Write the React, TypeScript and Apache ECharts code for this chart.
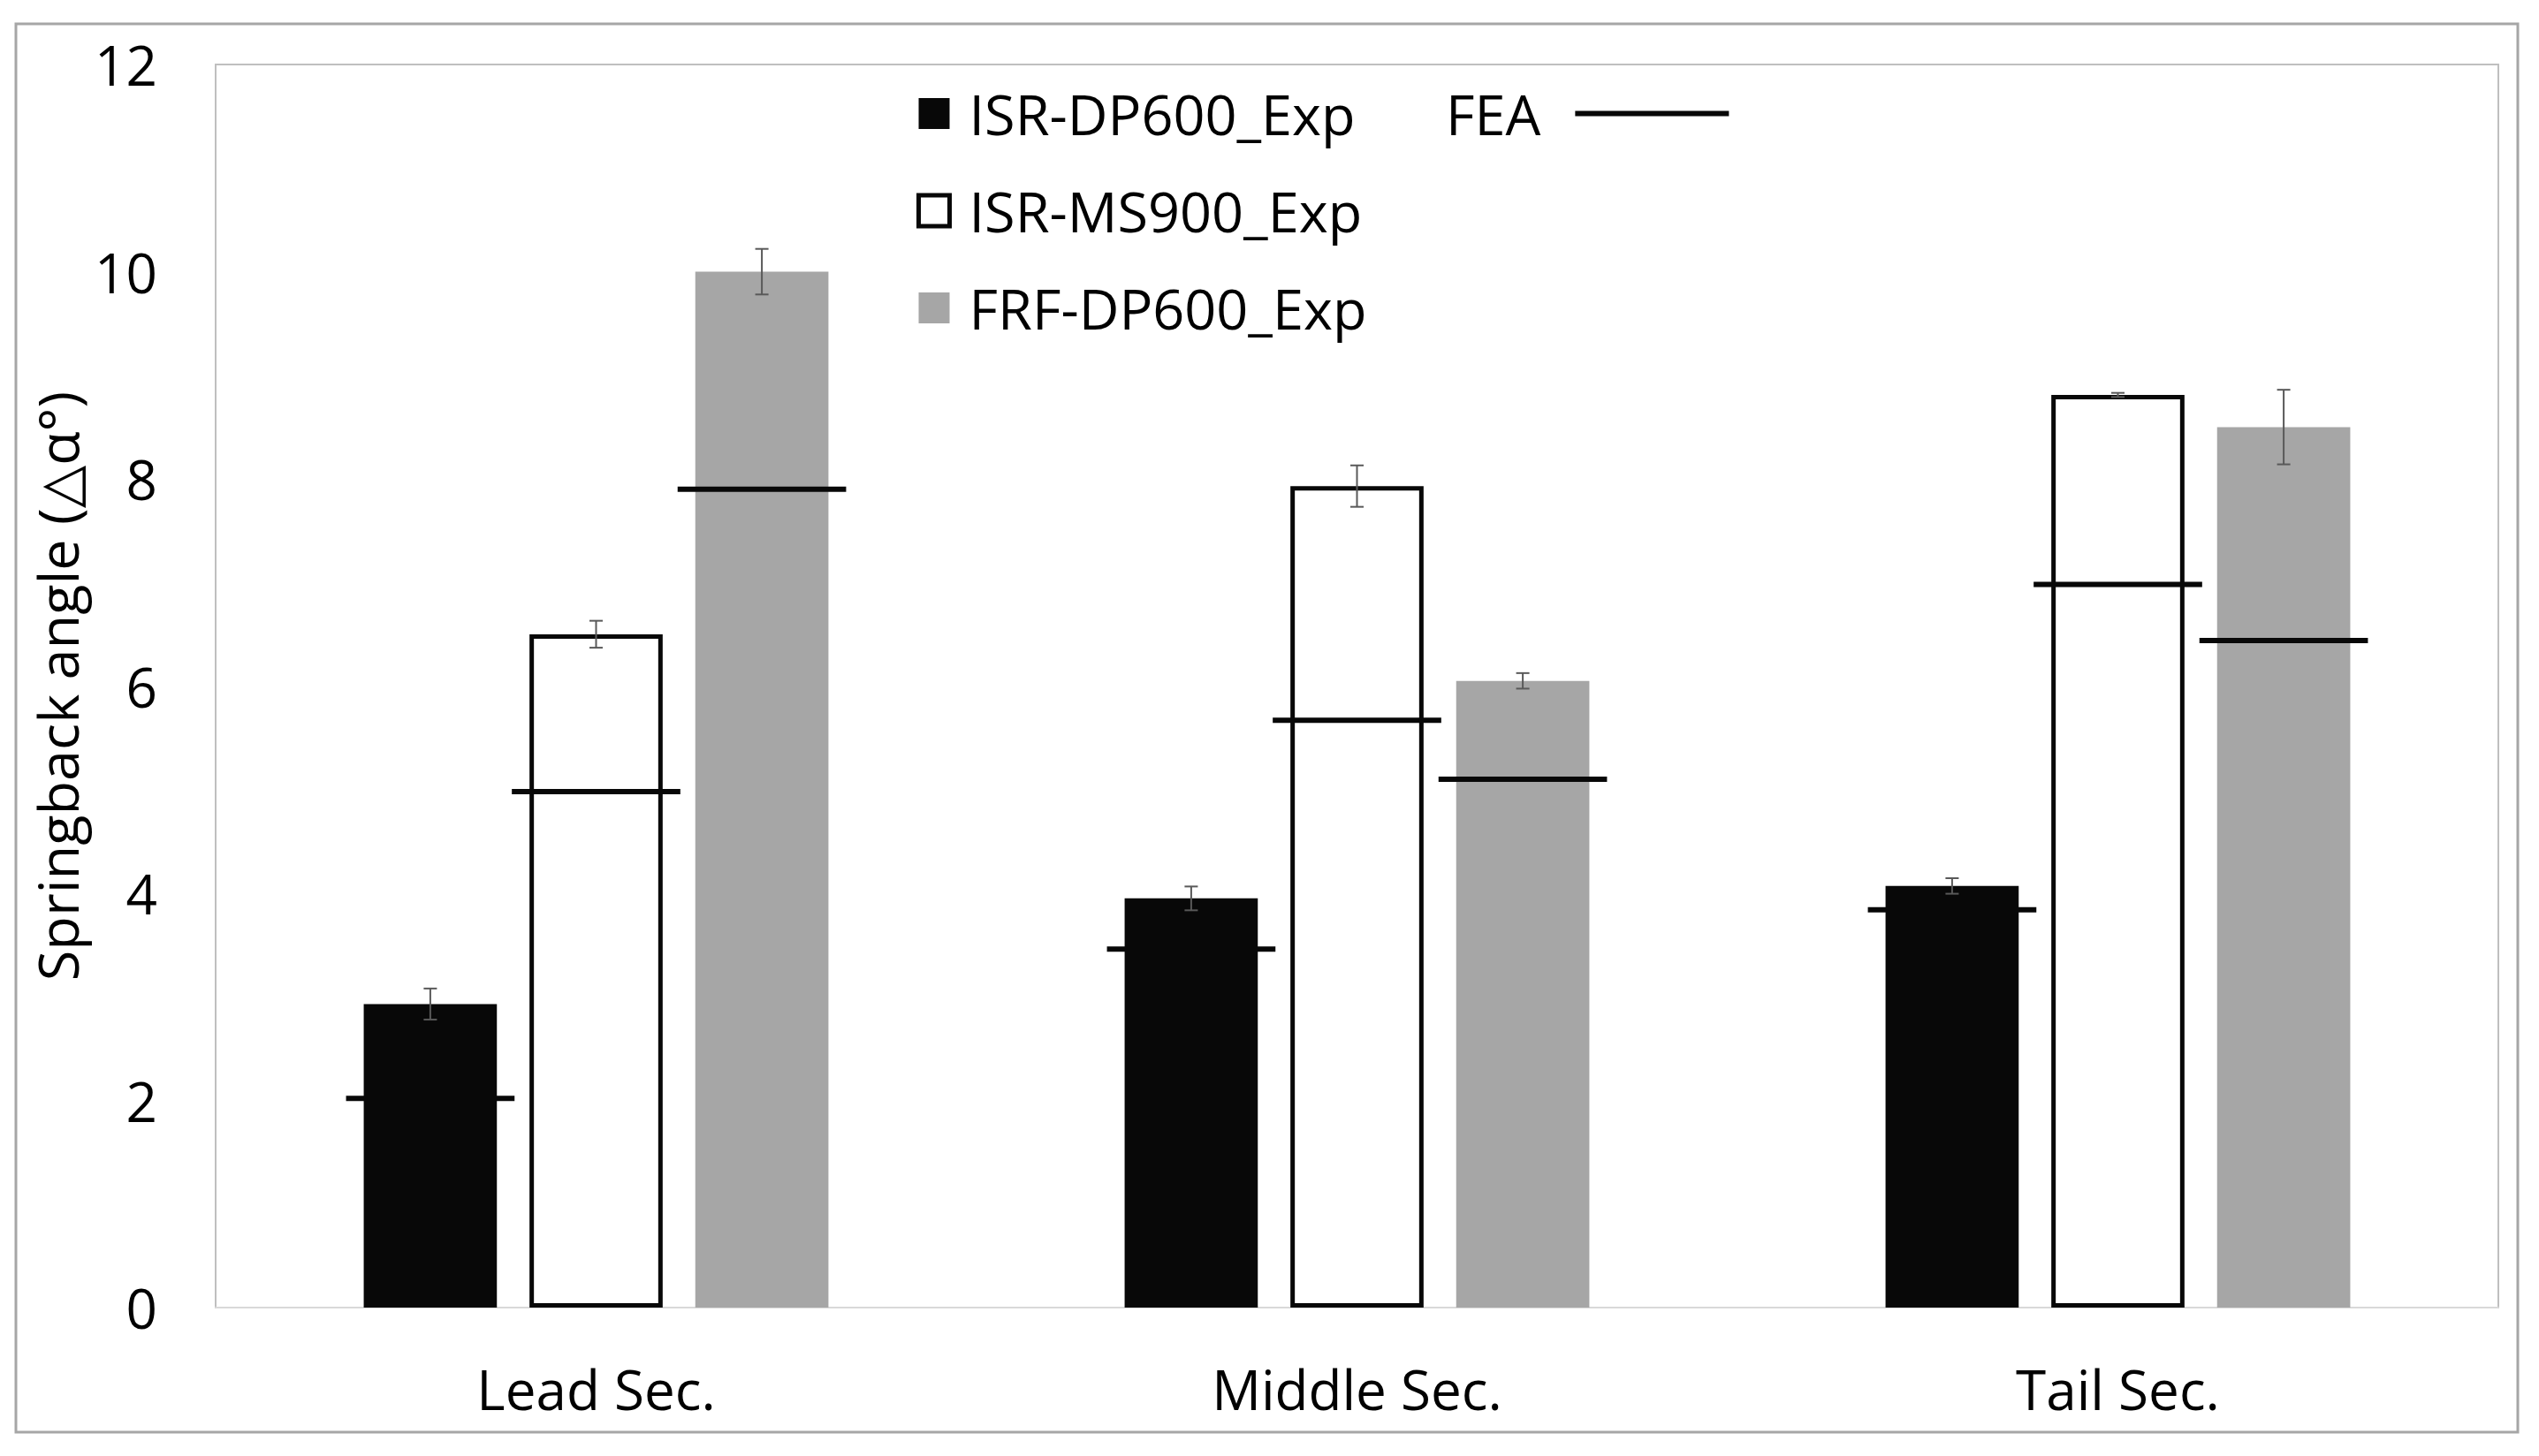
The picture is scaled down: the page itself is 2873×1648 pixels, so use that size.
import React, { useEffect, useRef } from "react";
import * as echarts from "echarts";

// ---- data ----
const categories = ["Lead Sec.", "Middle Sec.", "Tail Sec."];
const seriesNames = ["ISR-DP600_Exp", "ISR-MS900_Exp", "FRF-DP600_Exp"];
const isrDp600 = [2.93, 3.95, 4.07];
const isrDp600Err = [0.15, 0.115, 0.075];
const isrMs900 = [6.5, 7.93, 8.81];
const isrMs900Err = [0.13, 0.2, 0.02];
const frfDp600 = [10.0, 6.05, 8.5];
const frfDp600Err = [0.22, 0.075, 0.36];
const feaIsrDp600 = [2.02, 3.46, 3.84];
const feaIsrMs900 = [4.98, 5.67, 6.98];
const feaFrfDp600 = [7.9, 5.1, 6.44];
const yMin = 0;
const yMax = 12;
const yInterval = 2;

// ---- style ----
const FONT = "'Open Sans', 'Noto Sans', 'DejaVu Sans', sans-serif";
const BAR_W = 0.175;
const BAR_GAP = 0.245;
const FEA_EXT = 20;
const BLACK = "#080808";
const GRAY = "#a6a6a6";

export default function App() {
  const ref = useRef<HTMLDivElement>(null);
  useEffect(() => {
    if (!ref.current) return;
    const chart = echarts.init(ref.current, undefined, { renderer: "svg" });

    const values = [isrDp600, isrMs900, frfDp600];
    const errs = [isrDp600Err, isrMs900Err, frfDp600Err];
    const feas = [feaIsrDp600, feaIsrMs900, feaFrfDp600];
    const errData: number[][] = [];
    const feaData: number[][] = [];
    values.forEach((arr, s) =>
      arr.forEach((v, c) => {
        errData.push([c, s, v, errs[s][c]]);
        feaData.push([c, s, feas[s][c]]);
      })
    );

    const styles = [
      { color: BLACK, borderWidth: 0 },
      { color: "#ffffff", borderColor: BLACK, borderWidth: 5 },
      { color: GRAY, borderWidth: 0 },
    ];

    const offsetX = (api: any, cat: number, s: number, v: number) => {
      const p = api.coord([cat, v]);
      const band = api.size([1, 0])[0];
      const bw = band * BAR_W;
      const step = bw * (1 + BAR_GAP);
      return { x: p[0] + (s - 1) * step, y: p[1], bw };
    };

    chart.setOption({
      animation: false,
      backgroundColor: "#ffffff",
      textStyle: { fontFamily: FONT },
      graphic: [
        {
          type: "rect",
          shape: { x: 18, y: 27, width: 2831, height: 1594 },
          style: { fill: "none", stroke: "#a6a6a6", lineWidth: 3 },
          z: -10,
        },
      ],
      grid: {
        left: 244,
        top: 73,
        right: 46,
        bottom: 168,
        show: true,
        borderColor: "#bfbfbf",
        borderWidth: 2,
      },
      legend: [
        {
          data: seriesNames.map((n, s) => ({
            name: n,
            itemStyle: s === 1
              ? { color: "#ffffff", borderColor: BLACK, borderWidth: 5 }
              : { color: styles[s].color, borderWidth: 0 },
          })),
          orient: "vertical",
          left: 1037,
          top: 97,
          padding: 0,
          itemWidth: 35,
          itemHeight: 35,
          itemGap: 47,
          icon: "rect",
          textStyle: {
            fontSize: 63,
            color: "#000",
            fontFamily: FONT,
            padding: [0, 0, 0, 17],
          },
        },
        {
          data: [
            {
              name: "FEA",
              icon: "path://M0 0H174V6H0Z",
              itemStyle: { color: BLACK, borderWidth: 0 },
            },
          ],
          orient: "vertical",
          align: "right",
          left: 1636,
          top: 97,
          padding: 0,
          itemWidth: 174,
          itemHeight: 6,
          textStyle: {
            fontSize: 63,
            color: "#000",
            fontFamily: FONT,
            padding: [0, 34, 0, 0],
          },
        },
      ],
      xAxis: {
        type: "category",
        data: categories,
        axisTick: { show: false },
        axisLine: { show: true, lineStyle: { color: "#d9d9d9", width: 2 } },
        axisLabel: { fontSize: 62, color: "#000", margin: 61, fontFamily: FONT },
        splitLine: { show: false },
      },
      yAxis: {
        type: "value",
        min: yMin,
        max: yMax,
        interval: yInterval,
        name: "Springback angle (△α°)",
        nameLocation: "middle",
        nameGap: 145,
        nameRotate: 90,
        nameTextStyle: { fontSize: 63, color: "#000", fontFamily: FONT },
        axisLine: { show: false },
        axisTick: { show: false },
        splitLine: { show: false },
        axisLabel: { fontSize: 62, color: "#000", margin: 66, fontFamily: FONT },
      },
      series: [
        ...values.map((arr, s) => ({
          name: seriesNames[s],
          type: "bar",
          data: arr,
          barWidth: BAR_W * 100 + "%",
          barGap: BAR_GAP * 100 + "%",
          itemStyle: styles[s],
          emphasis: { disabled: true },
        })),
        {
          name: "FEA",
          type: "custom",
          data: feaData,
          encode: { x: 0, y: 2 },
          itemStyle: { color: BLACK },
          z: 5,
          renderItem: (params: any, api: any) => {
            const o = offsetX(api, api.value(0), api.value(1), api.value(2));
            const half = o.bw / 2 + FEA_EXT;
            return {
              type: "line",
              shape: { x1: o.x - half, y1: o.y, x2: o.x + half, y2: o.y },
              style: { stroke: BLACK, lineWidth: 6 },
            };
          },
        },
        {
          name: "err",
          type: "custom",
          data: errData,
          encode: { x: 0, y: 2 },
          z: 6,
          renderItem: (params: any, api: any) => {
            const v = api.value(2);
            const e = api.value(3);
            const top = offsetX(api, api.value(0), api.value(1), v + e);
            const bot = offsetX(api, api.value(0), api.value(1), v - e);
            const cap = 7.5;
            const st = { stroke: "#595959", lineWidth: 2 };
            return {
              type: "group",
              children: [
                { type: "line", shape: { x1: top.x, y1: top.y, x2: bot.x, y2: bot.y }, style: st },
                { type: "line", shape: { x1: top.x - cap, y1: top.y, x2: top.x + cap, y2: top.y }, style: st },
                { type: "line", shape: { x1: bot.x - cap, y1: bot.y, x2: bot.x + cap, y2: bot.y }, style: st },
              ],
            };
          },
        },
      ],
    });
    return () => chart.dispose();
  }, []);
  return (
    <div
      ref={ref}
      style={{ position: "fixed", left: 0, top: 0, width: 2873, height: 1648 }}
    />
  );
}
